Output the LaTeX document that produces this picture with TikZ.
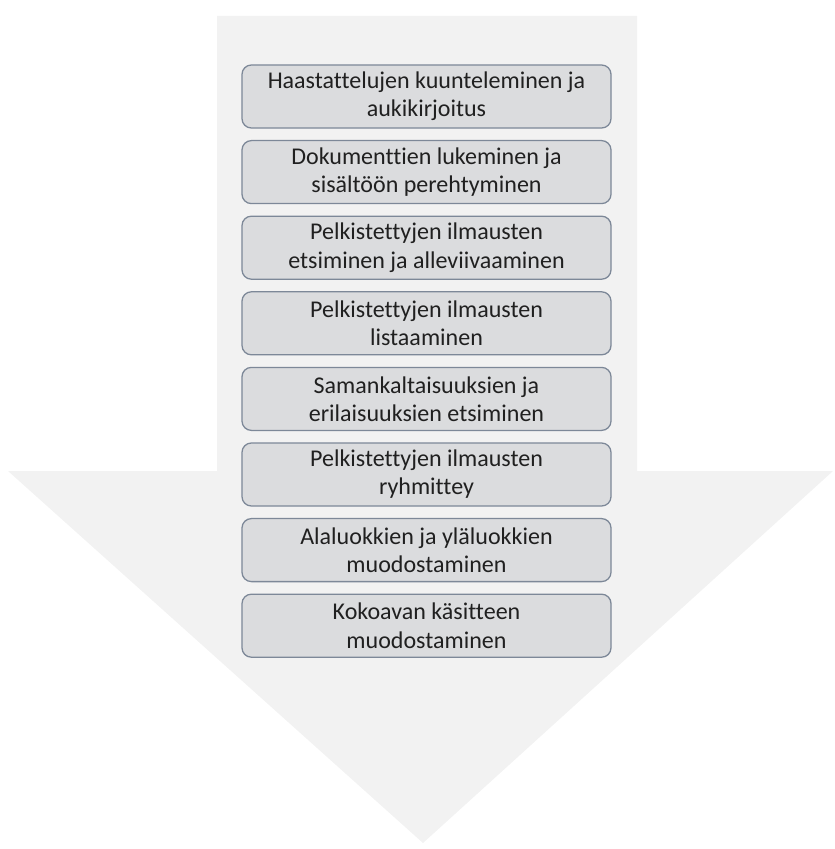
\documentclass[tikz,border=0pt]{standalone}
\usepackage{fontspec}
\setmainfont[Ligatures=NoCommon]{Carlito}
\definecolor{arrowfill}{HTML}{F2F2F2}
\definecolor{boxfill}{HTML}{DBDCDE}
\definecolor{boxedge}{HTML}{7D8898}
\definecolor{textgray}{HTML}{202020}
\begin{document}
\begin{tikzpicture}[x=0.03cm,y=-0.03cm,
    phase/.style={draw=boxedge,fill=boxfill,rounded corners=8pt,line width=1.1pt,
      minimum width=11.07cm,minimum height=1.89cm,inner sep=0pt,align=center,
      text=textgray,font=\fontsize{20.5}{24}\selectfont}]
  \useasboundingbox (0,0) rectangle (834,849);

  % big down arrow behind the steps
  \fill[arrowfill] (217,16) -- (637,16) -- (637,471) -- (833,471)
    -- (423,843) -- (8,471) -- (217,471) -- cycle;

  \foreach[count=\i,evaluate={96.5+(\i-1)*75.6} as \y] \t in {
      {Haastattelujen kuunteleminen ja\\aukikirjoitus},
      {Dokumenttien lukeminen ja\\sisältöön perehtyminen},
      {Pelkistettyjen ilmausten\\etsiminen ja alleviivaaminen},
      {Pelkistettyjen ilmausten\\listaaminen},
      {Samankaltaisuuksien ja\\erilaisuuksien etsiminen},
      {Pelkistettyjen ilmausten\\ryhmittey},
      {Alaluokkien ja yläluokkien\\muodostaminen},
      {Kokoavan käsitteen\\muodostaminen}} {
    \node[phase] (s\i) at (426.5,\y) {\t};
  }
\end{tikzpicture}
\end{document}
